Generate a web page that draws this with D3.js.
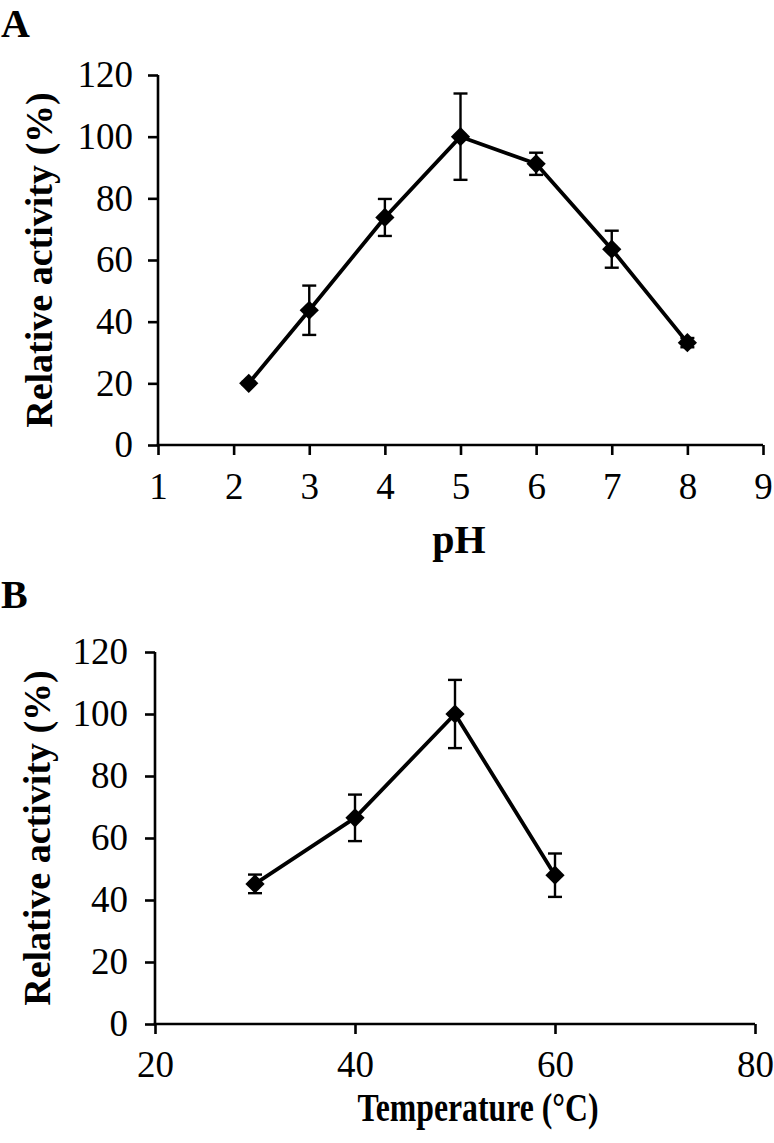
<!DOCTYPE html>
<html>
<head>
<meta charset="utf-8">
<script src="https://cdn.jsdelivr.net/npm/d3@7"></script>
<style>
  html, body { margin: 0; padding: 0; background: #fff; }
  svg { display: block; }
  text { font-family: "Liberation Serif", "Times New Roman", serif; fill: #000; }
</style>
</head>
<body>
<svg id="chart" width="774" height="1143"></svg>
<script>
// ---- Data ----
const phValues = [2.2, 3, 4, 5, 6, 7, 8];
const phActivity = [20, 43.7, 73.8, 100, 91.2, 63.5, 33.2];
const phError = [0.5, 8, 6, 14, 3.6, 6, 1.5];

const tempValues = [30, 40, 50, 60];
const tempActivity = [45.2, 66.5, 100, 48];
const tempError = [3, 7.5, 11, 7];

const yTicks = [0, 20, 40, 60, 80, 100, 120];
const phTicks = [1, 2, 3, 4, 5, 6, 7, 8, 9];
const tempTicks = [20, 40, 60, 80];

const svg = d3.select("#chart");

function drawPanel(cfg) {
  const x = d3.scaleLinear().domain(cfg.xDomain).range([cfg.left, cfg.right]);
  const y = d3.scaleLinear().domain([0, 120]).range([cfg.bottom, cfg.top]);
  const g = svg.append("g");

  const ya = g.append("g")
    .attr("transform", `translate(${cfg.left},0)`)
    .call(d3.axisLeft(y).tickValues(yTicks).tickSize(cfg.tickLen).tickPadding(cfg.yPad).tickSizeOuter(0));
  const xa = g.append("g")
    .attr("transform", `translate(0,${cfg.bottom})`)
    .call(d3.axisBottom(x).tickValues(cfg.xTicks).tickSize(cfg.tickLen).tickPadding(cfg.xPad).tickSizeOuter(0));

  [ya, xa].forEach(a => {
    a.select(".domain").attr("stroke", "#000").attr("stroke-width", 2.6);
    a.selectAll(".tick line").attr("stroke", "#000").attr("stroke-width", 2.6);
    a.selectAll(".tick text")
      .style("font-family", '"Liberation Serif", "Times New Roman", serif')
      .style("font-size", "37px")
      .attr("fill", "#000");
  });
  ya.select(".domain").attr("d", `M0,${y(120)}V${cfg.bottom + 1.3}`);
  xa.select(".domain").attr("d", `M${cfg.left - 1.3},0H${cfg.right}`);

  const pts = cfg.xs.map((v, i) => ({ x: v, y: cfg.ys[i], e: cfg.es[i] }));

  g.append("path")
    .datum(pts)
    .attr("fill", "none")
    .attr("stroke", "#000")
    .attr("stroke-width", 3.8)
    .attr("stroke-linejoin", "round")
    .attr("d", d3.line().x(d => x(d.x)).y(d => y(d.y)));

  const eb = g.append("g").attr("stroke", "#000").attr("stroke-width", 2.4).attr("fill", "none");
  const cap = 7;
  pts.forEach(d => {
    eb.append("line").attr("x1", x(d.x)).attr("x2", x(d.x)).attr("y1", y(d.y - d.e)).attr("y2", y(d.y + d.e));
    eb.append("line").attr("x1", x(d.x) - cap).attr("x2", x(d.x) + cap).attr("y1", y(d.y + d.e)).attr("y2", y(d.y + d.e));
    eb.append("line").attr("x1", x(d.x) - cap).attr("x2", x(d.x) + cap).attr("y1", y(d.y - d.e)).attr("y2", y(d.y - d.e));
  });

  g.append("g").selectAll("path")
    .data(pts)
    .join("path")
    .attr("d", d3.symbol().type(d3.symbolSquare).size(185))
    .attr("transform", d => `translate(${x(d.x)},${y(d.y)}) rotate(45)`)
    .attr("fill", "#000");

  g.append("text")
    .attr("transform", `translate(${cfg.yTitleX},${(cfg.top + cfg.bottom) / 2}) rotate(-90)`)
    .attr("text-anchor", "middle")
    .style("font-size", "38px")
    .style("font-weight", "bold")
    .text("Relative activity (%)");

  const xt = g.append("text")
    .attr("x", cfg.xTitleX)
    .attr("y", cfg.xTitleY)
    .attr("text-anchor", "middle")
    .style("font-size", "40px")
    .style("font-weight", "bold")
    .text(cfg.xTitle);
  if (cfg.xTitleLen) xt.attr("textLength", cfg.xTitleLen).attr("lengthAdjust", "spacingAndGlyphs");

  g.append("text")
    .attr("x", cfg.letterX)
    .attr("y", cfg.letterY)
    .style("font-size", "40px")
    .style("font-weight", "bold")
    .text(cfg.letter);
}

drawPanel({
  xDomain: [1, 9], left: 158, right: 763, top: 75, bottom: 445,
  xTicks: phTicks, tickLen: 10, yPad: 15, xPad: 18,
  xs: phValues, ys: phActivity, es: phError,
  yTitleX: 52, xTitle: "pH", xTitleX: 459, xTitleY: 553,
  letter: "A", letterX: 1, letterY: 37
});

drawPanel({
  xDomain: [20, 80], left: 155, right: 755, top: 652, bottom: 1024,
  xTicks: tempTicks, tickLen: 10, yPad: 17, xPad: 17,
  xs: tempValues, ys: tempActivity, es: tempError,
  yTitleX: 50, xTitle: "Temperature (°C)", xTitleX: 478, xTitleY: 1121, xTitleLen: 241,
  letter: "B", letterX: 1, letterY: 608
});
</script>
</body>
</html>
